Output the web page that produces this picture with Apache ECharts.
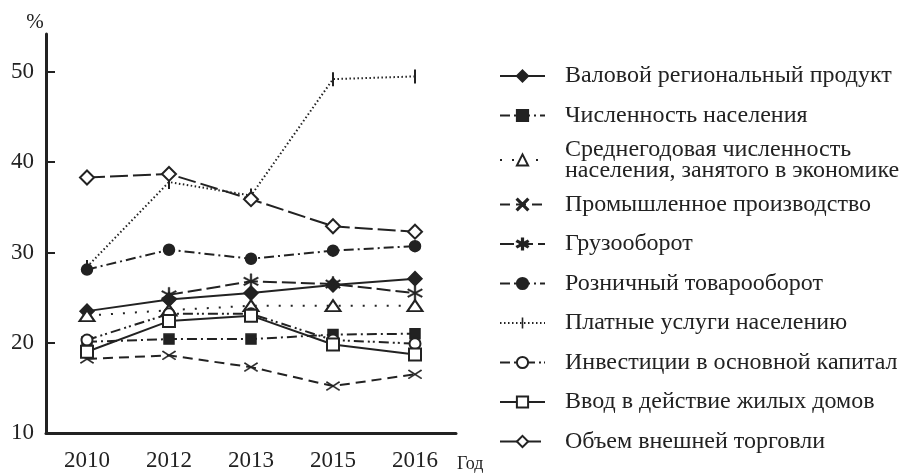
<!DOCTYPE html>
<html><head><meta charset="utf-8">
<script src="https://cdn.jsdelivr.net/npm/echarts@6/dist/echarts.min.js"></script>
<style>html,body{margin:0;padding:0;background:#fff}#c{width:917px;height:473px}</style>
</head><body><div id="c"></div>
<script>
// ---- data ----
const years = ['2010', '2012', '2013', '2015', '2016'];
const yTicks = [10, 20, 30, 40, 50];
const seriesNames = [
  'Валовой региональный продукт',
  'Численность населения',
  'Среднегодовая численность\nнаселения, занятого в экономике',
  'Промышленное производство',
  'Грузооборот',
  'Розничный товарооборот',
  'Платные услуги населению',
  'Инвестиции в основной капитал',
  'Ввод в действие жилых домов',
  'Объем внешней торговли'
];
const grp        = [23.5, 24.8, 25.5, 26.4, 27.1];
const population = [20.1, 20.4, 20.4, 20.9, 21.0];
const employed   = [23.0, 23.6, 24.1, 24.1, 24.1];
const industry   = [18.2, 18.6, 17.3, 15.2, 16.5];
const freight    = [null, 25.3, 26.8, 26.5, 25.5];
const retail     = [28.1, 30.3, 29.3, 30.2, 30.7];
const services   = [28.4, 37.8, 36.3, 49.2, 49.5];
const investment = [20.3, 23.2, 23.2, 20.3, 19.9];
const housing    = [19.0, 22.4, 23.0, 19.8, 18.7];
const trade      = [38.3, 38.7, 35.9, 32.9, 32.3];

// ---- styles ----
const INK = '#222';
const FONT = '"Liberation Serif", "Times New Roman", serif';
const X_PATH = 'path://M0,1.5L1.5,0L20,18.5L18.5,20ZM18.5,0L20,1.5L1.5,20L0,18.5Z';
const STAR_PATH = 'path://M9,0H11V20H9ZM0.84,14.13L18.16,4.13L19.16,5.87L1.84,15.87ZM1.84,4.13L19.16,14.13L18.16,15.87L0.84,5.87Z';
const TICK_PATH = 'path://M6,0H8V14H6ZM0,7H14V7.01H0Z';

const styles = [
  {symbol: 'diamond', size: [14, 14], dash: 'solid', bw: 1.5},
  {symbol: 'rect', size: [10, 10], dash: [10, 4, 2, 4], bw: 1.5},
  {symbol: 'emptyTriangle', size: [15, 11], dash: [2, 10], bw: 1.5},
  {symbol: X_PATH, size: [14, 9], dash: [10, 6], bw: 0.5},
  {symbol: STAR_PATH, size: [15, 15], dash: [14, 5], bw: 0.5},
  {symbol: 'circle', size: [11, 11], dash: [10, 4, 2, 4], bw: 1.5},
  {symbol: TICK_PATH, size: [14, 14], dash: [1.5, 2.5], bw: 0},
  {symbol: 'emptyCircle', size: [11, 11], dash: [10, 4, 2, 3, 2, 4], bw: 1.5},
  {symbol: 'emptyRect', size: [12, 12], dash: 'solid', bw: 1.5},
  {symbol: 'emptyDiamond', size: [14, 14], dash: [18, 5], bw: 1.5}
];
const dataSets = [grp, population, employed, industry, freight, retail, services, investment, housing, trade];

const series = seriesNames.map((name, i) => ({
  name: name,
  type: 'line',
  data: dataSets[i],
  symbol: styles[i].symbol,
  symbolSize: styles[i].size,
  showSymbol: true,
  connectNulls: false,
  lineStyle: {color: INK, width: 2, type: styles[i].dash},
  itemStyle: {color: INK, borderColor: INK, borderWidth: styles[i].bw},
  emphasis: {disabled: true},
  z: 2 + i
}));

const chart = echarts.init(document.getElementById('c'), null, {renderer: 'canvas'});
chart.setOption({
  animation: false,
  backgroundColor: '#fff',
  grid: {left: 46, top: 34, width: 410, height: 400, containLabel: false},
  xAxis: {
    type: 'category',
    data: years,
    boundaryGap: true,
    name: 'Год',
    nameLocation: 'end',
    nameGap: 1,
    nameTextStyle: {fontFamily: FONT, fontSize: 18, color: INK, verticalAlign: 'top', padding: [22, 0, 0, 0]},
    axisLine: {lineStyle: {color: INK, width: 3}},
    axisTick: {inside: true, length: 9, lineStyle: {color: INK, width: 2}},
    axisLabel: {fontFamily: FONT, fontSize: 23, color: INK, margin: 16},
    splitLine: {show: false}
  },
  yAxis: {
    type: 'value',
    min: 10, max: 54.2, interval: 10,
    name: '%',
    nameLocation: 'end',
    nameGap: 1,
    nameTextStyle: {fontFamily: FONT, fontSize: 21, color: INK, padding: [0, 22, 0, 0]},
    axisLine: {show: true, lineStyle: {color: INK, width: 3}},
    axisTick: {show: true, inside: true, length: 9, lineStyle: {color: INK, width: 2}, customValues: yTicks},
    axisLabel: {fontFamily: FONT, fontSize: 23, color: INK, margin: 12, customValues: yTicks,
      formatter: v => (yTicks.indexOf(v) >= 0 ? String(v) : '')},
    splitLine: {show: false}
  },
  legend: {
    orient: 'vertical',
    left: 494,
    top: 53.5,
    itemWidth: 45,
    itemHeight: 14,
    itemGap: 4.5,
    selectedMode: false,
    textStyle: {fontFamily: FONT, fontSize: 24, color: INK, lineHeight: 35, padding: [0, 0, 0, 15]},
    data: seriesNames.map((n, i) => i === 2 ? {name: n, textStyle: {lineHeight: 21}} : {name: n})
  },
  series: series
});
</script>
</body></html>
